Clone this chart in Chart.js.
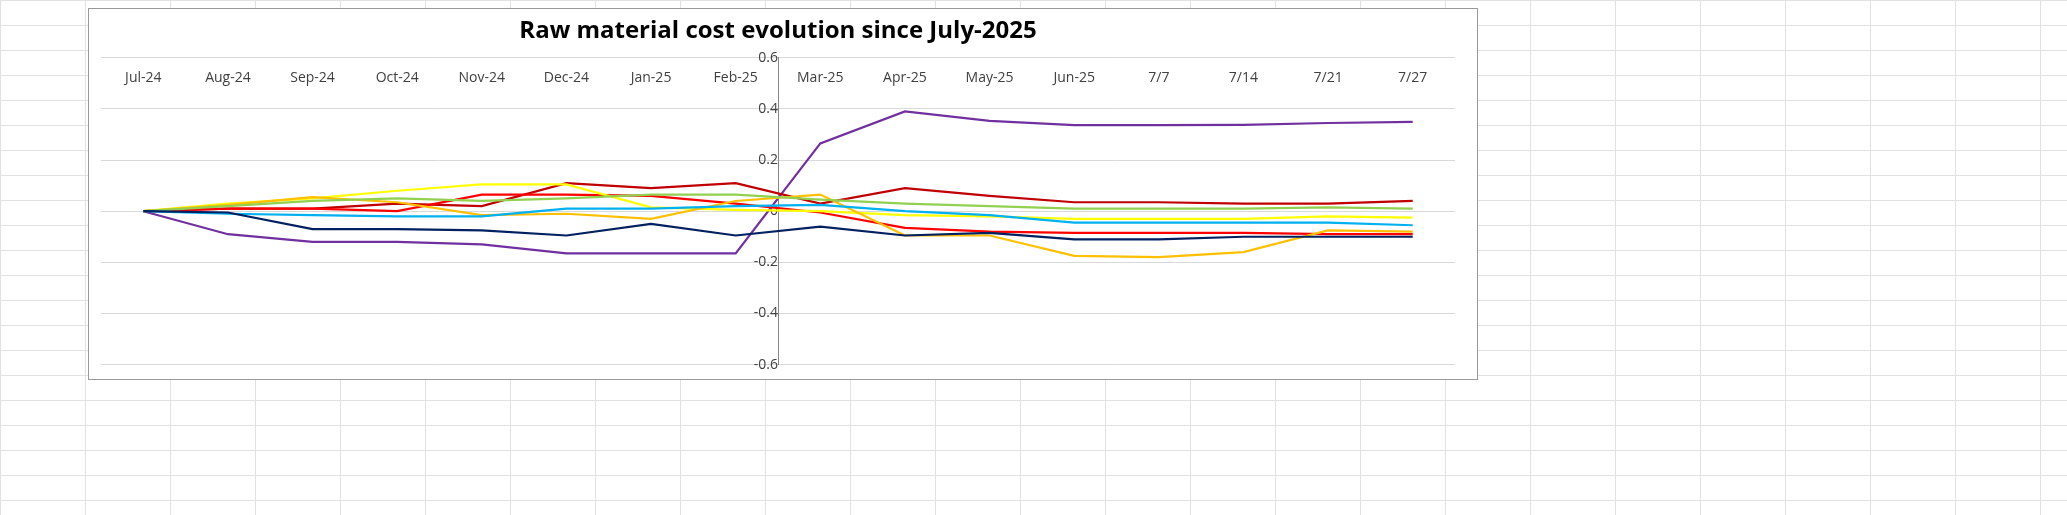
<!DOCTYPE html>
<html lang="en">
<head>
<meta charset="UTF-8">
<title>Raw material cost</title>
<script src="https://cdn.jsdelivr.net/npm/chart.js"></script>
<style>
  html, body { margin: 0; padding: 0; }
  body {
    width: 2067px; height: 515px; background-color: #fff;
    background-image:
      linear-gradient(to right, #e1e1e1 1px, transparent 1px),
      linear-gradient(to bottom, #e1e1e1 1px, transparent 1px);
    background-size: 85px 1px, 1px 25px;
    position: relative; overflow: hidden;
  }
  .box {
    position: absolute; left: 88px; top: 8px; width: 1390px; height: 372px;
    background: #fff; border: 1px solid #9a9a9a; box-sizing: border-box;
  }
</style>
</head>
<body>
<div class="box"><canvas id="chart"></canvas></div>
<script>
const labels = ['Jul-24','Aug-24','Sep-24','Oct-24','Nov-24','Dec-24','Jan-25','Feb-25','Mar-25','Apr-25','May-25','Jun-25','7/7','7/14','7/21','7/27'];

const purple  = [0, -0.09, -0.12, -0.12, -0.13, -0.165, -0.165, -0.165, 0.265, 0.39, 0.353, 0.337, 0.337, 0.338, 0.345, 0.349];
const darkRed = [0, 0.01, 0.01, 0.03, 0.02, 0.11, 0.09, 0.11, 0.03, 0.09, 0.06, 0.035, 0.035, 0.03, 0.03, 0.04];
const red     = [0, 0.01, 0.01, 0.0, 0.065, 0.065, 0.06, 0.03, -0.005, -0.065, -0.08, -0.085, -0.085, -0.085, -0.09, -0.09];
const yellow  = [0, 0.03, 0.05, 0.08, 0.105, 0.105, 0.015, 0.005, 0.0, -0.015, -0.02, -0.03, -0.03, -0.03, -0.02, -0.025];
const gold    = [0, 0.025, 0.055, 0.035, -0.015, -0.01, -0.03, 0.04, 0.065, -0.095, -0.095, -0.175, -0.18, -0.16, -0.075, -0.08];
const green   = [0, 0.02, 0.04, 0.05, 0.04, 0.05, 0.065, 0.065, 0.045, 0.03, 0.02, 0.01, 0.01, 0.01, 0.015, 0.01];
const cyan    = [0, -0.01, -0.015, -0.02, -0.02, 0.01, 0.01, 0.02, 0.025, 0.0, -0.015, -0.045, -0.045, -0.045, -0.045, -0.055];
const navy    = [0, -0.005, -0.07, -0.07, -0.075, -0.095, -0.05, -0.095, -0.06, -0.095, -0.085, -0.11, -0.11, -0.1, -0.1, -0.1];

const yTicks = [-0.6, -0.4, -0.2, 0, 0.2, 0.4, 0.6];

function series(name, values, color) {
  return {
    label: name,
    data: values.map((v, i) => ({ x: i, y: v })),
    borderColor: color,
    borderWidth: 2.2,
    pointRadius: 0,
    tension: 0,
    fill: false
  };
}

new Chart(document.getElementById('chart'), {
  type: 'line',
  data: {
    datasets: [
      series('navy', navy, '#002060'),
      series('cyan', cyan, '#00B0F0'),
      series('green', green, '#92D050'),
      series('gold', gold, '#FFC000'),
      series('yellow', yellow, '#FFFF00'),
      series('red', red, '#FF0000'),
      series('dark red', darkRed, '#C00000'),
      series('purple', purple, '#7030A0')
    ]
  },
  options: {
    responsive: true,
    maintainAspectRatio: false,
    animation: false,
    layout: { padding: { left: 12, right: 22, top: 0, bottom: 12 } },
    plugins: {
      legend: { display: false },
      tooltip: { enabled: false },
      title: {
        display: true,
        text: 'Raw material cost evolution since July-2025',
        color: '#000',
        font: { family: 'Open Sans', size: 24, weight: 'bold' },
        padding: { top: 8, bottom: 12 }
      }
    },
    scales: {
      x: {
        type: 'linear',
        min: -0.5, max: 15.5,
        position: { y: 0.6 },
        afterBuildTicks: s => { s.ticks = labels.map((l, i) => ({ value: i })); },
        ticks: {
          callback: v => labels[v],
          color: '#404040',
          font: { family: 'Open Sans', size: 14 },
          padding: 4,
          maxRotation: 0,
          autoSkip: false
        },
        grid: { display: false },
        border: { display: false }
      },
      y: {
        min: -0.6, max: 0.6,
        position: { x: 7.5 },
        afterBuildTicks: s => { s.ticks = yTicks.map(v => ({ value: v })); },
        ticks: {
          callback: v => (Math.abs(v) < 1e-9 ? '0' : v.toFixed(1)),
          color: '#404040',
          font: { family: 'Open Sans', size: 14 },
          padding: 6
        },
        grid: { color: '#d9d9d9', drawTicks: false },
        border: { display: true, color: '#868686', width: 1 }
      }
    }
  }
});
</script>
</body>
</html>
